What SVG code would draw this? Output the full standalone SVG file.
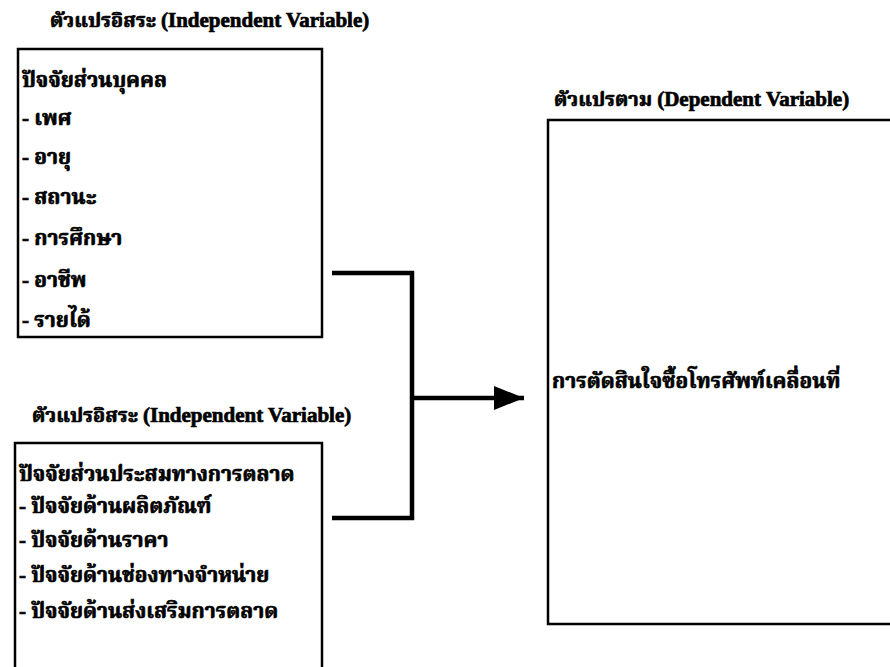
<svg xmlns="http://www.w3.org/2000/svg" width="890" height="667" viewBox="0 0 890 667">
  <style>
    text { font-family: "Liberation Serif", "Noto Serif Thai", "Noto Sans Thai", "Loma", "Garuda", serif; font-weight: bold; fill: #000; stroke: #000; stroke-width: 0.7; }
    .title { font-size: 20px; }
    .en { font-size: 21px; }
    .item { font-size: 21px; }
    .box { fill: #fff; stroke: #000; stroke-width: 2.5; }
    .wire { fill: none; stroke: #000; stroke-width: 4.5; }
  </style>
  <defs>
    <marker id="head" markerWidth="30" markerHeight="24" refX="30" refY="12" orient="auto" markerUnits="userSpaceOnUse" viewBox="0 0 30 24">
      <path d="M0,0 L30,12 L0,24 Z" fill="#000"/>
    </marker>
  </defs>
  <rect width="890" height="667" fill="#fff"/>

  <!-- personal factors -->
  <g id="personal">
    <text class="title" x="50" y="27">ตัวแปรอิสระ <tspan class="en">(Independent Variable)</tspan></text>
    <rect class="box" x="18" y="49" width="304" height="288"/>
    <text class="item" x="22" y="87">ปัจจัยส่วนบุคคล</text>
    <text class="item" x="22" y="125">- เพศ</text>
    <text class="item" x="22" y="164">- อายุ</text>
    <text class="item" x="22" y="204">- สถานะ</text>
    <text class="item" x="22" y="245">- การศึกษา</text>
    <text class="item" x="22" y="287">- อาชีพ</text>
    <text class="item" x="22" y="327">- รายได้</text>
  </g>

  <!-- marketing mix factors -->
  <g id="marketing">
    <text class="title" x="32" y="422">ตัวแปรอิสระ <tspan class="en">(Independent Variable)</tspan></text>
    <rect class="box" x="15" y="443" width="307" height="240"/>
    <text class="item" x="19" y="481">ปัจจัยส่วนประสมทางการตลาด</text>
    <text class="item" x="19" y="513">-  ปัจจัยด้านผลิตภัณฑ์</text>
    <text class="item" x="19" y="547">-  ปัจจัยด้านราคา</text>
    <text class="item" x="19" y="582">- ปัจจัยด้านช่องทางจำหน่าย</text>
    <text class="item" x="19" y="618">- ปัจจัยด้านส่งเสริมการตลาด</text>
  </g>

  <!-- purchase decision -->
  <g id="decision">
    <text class="title" x="554" y="106">ตัวแปรตาม <tspan class="en">(Dependent Variable)</tspan></text>
    <rect class="box" x="548" y="120" width="350" height="504"/>
    <text class="item" x="552" y="388">การตัดสินใจซื้อโทรศัพท์เคลื่อนที่</text>
  </g>

  <g id="connectors">
    <path class="wire" d="M332,273 H412 V518 H332"/>
    <path class="wire" d="M412,398 H524" marker-end="url(#head)"/>
  </g>
</svg>
